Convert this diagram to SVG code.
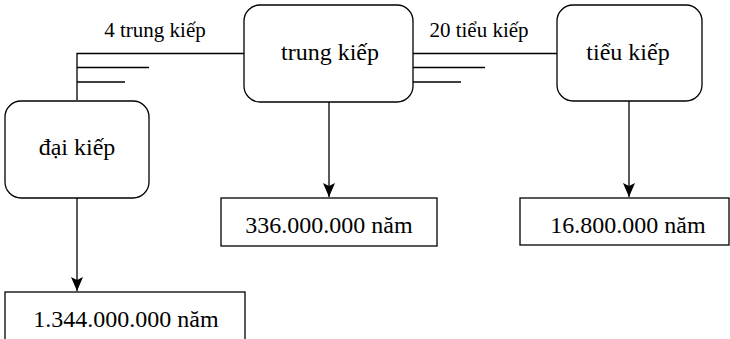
<svg xmlns="http://www.w3.org/2000/svg" width="730" height="339" viewBox="0 0 730 339">
<style>
.box{fill:#fff;stroke:#000;stroke-width:1.3}
.ln{fill:none;stroke:#000;stroke-width:1.3}
.node{font-size:24px;text-anchor:middle}
.val{font-size:24px;text-anchor:middle}
.lbl{font-size:21px;text-anchor:middle}
</style>
<defs>
<marker id="arr" markerWidth="14" markerHeight="16" refX="7" refY="15" orient="0" markerUnits="userSpaceOnUse" viewBox="0 0 14 16">
<path d="M1,1 L7,4 L13,1 L7,15 Z" fill="#000"/>
</marker>
</defs>
<g font-family="Liberation Serif, Times New Roman, DejaVu Serif, serif" fill="#000">
<g id="connectors">
<path class="ln" d="M77,100 L77,53.5 L244,53.5"/>
<path class="ln" d="M77,67.5 L149,67.5 M77,82 L125,82"/>
<path class="ln" d="M413,53.5 L557,53.5"/>
<path class="ln" d="M413,67.5 L485,67.5 M413,82 L461,82"/>
<path class="ln" d="M329,102 L329,197" marker-end="url(#arr)"/>
<path class="ln" d="M629,101 L629,197" marker-end="url(#arr)"/>
<path class="ln" d="M77,198 L77,291" marker-end="url(#arr)"/>
<text class="lbl" x="155" y="37">4 trung kiếp</text>
<text class="lbl" x="479" y="37">20 tiểu kiếp</text>
</g>
<g id="trung-kiep">
<rect class="box" x="244" y="5" width="169" height="97" rx="16"/>
<text class="node" x="330" y="60">trung kiếp</text>
</g>
<g id="tieu-kiep">
<rect class="box" x="557" y="5" width="145" height="96" rx="16"/>
<text class="node" x="628" y="60">tiểu kiếp</text>
</g>
<g id="dai-kiep">
<rect class="box" x="5" y="101" width="144" height="97" rx="16"/>
<text class="node" x="77" y="155">đại kiếp</text>
</g>
<g id="v336">
<rect class="box" x="221" y="198" width="216" height="48"/>
<text class="val" x="329" y="233">336.000.000 năm</text>
</g>
<g id="v16">
<rect class="box" x="520" y="198" width="209" height="47"/>
<text class="val" x="628" y="233">16.800.000 năm</text>
</g>
<g id="v1344">
<rect class="box" x="5" y="292" width="240" height="60"/>
<text class="val" x="126" y="327">1.344.000.000 năm</text>
</g>
</g>
</svg>
